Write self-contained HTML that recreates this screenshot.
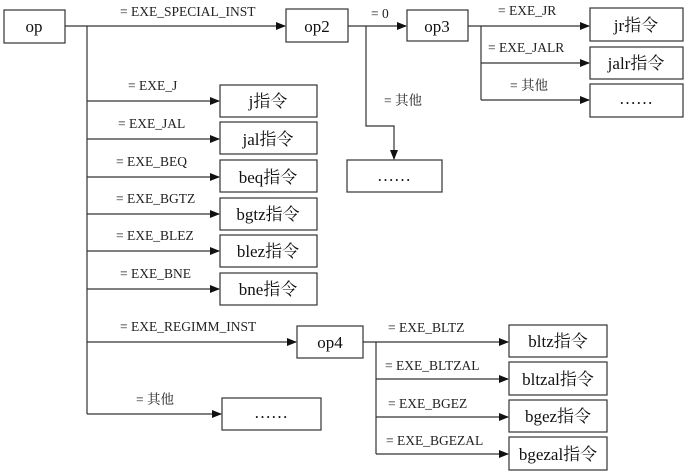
<!DOCTYPE html>
<html><head><meta charset="utf-8"><style>
html,body{margin:0;padding:0;background:#fff;}
svg{display:block;}
.l{font-family:"Liberation Serif","Noto Serif CJK SC",serif;font-size:13.5px;fill:#222;}
.b{font-family:"Liberation Serif","Noto Serif CJK SC",serif;font-size:17px;fill:#111;text-anchor:middle;}
rect{fill:#fff;stroke:#333;stroke-width:1.2;}
line,polyline{stroke:#333;stroke-width:1.2;fill:none;}
</style></head><body>
<svg width="690" height="473" viewBox="0 0 690 473" xmlns="http://www.w3.org/2000/svg">
<defs><marker id="a" markerWidth="10" markerHeight="8" refX="9" refY="4" orient="auto" markerUnits="userSpaceOnUse"><path d="M0,0 L10,4 L0,8 Z" fill="#111"/></marker></defs>

<rect x="4" y="10" width="61" height="33"/><text class="b" x="34" y="32">op</text>
<line x1="65" y1="26" x2="285" y2="26" marker-end="url(#a)"/>
<text class="l" x="120" y="16">= EXE_SPECIAL_INST</text>
<line x1="87" y1="26" x2="87" y2="414"/>

<rect x="286" y="9" width="62" height="33"/><text class="b" x="317" y="32">op2</text>
<line x1="348" y1="26" x2="406" y2="26" marker-end="url(#a)"/>
<text class="l" x="371" y="18">= 0</text>
<polyline points="366,26 366,126 394,126 394,159" marker-end="url(#a)"/>
<text class="l" x="384" y="105">= 其他</text>
<rect x="347" y="160" width="95" height="32"/><text class="b" x="394" y="181">……</text>

<rect x="407" y="10" width="61" height="31"/><text class="b" x="437" y="32">op3</text>
<line x1="468" y1="26" x2="589" y2="26" marker-end="url(#a)"/>
<text class="l" x="498" y="15">= EXE_JR</text>
<line x1="481" y1="26" x2="481" y2="100"/>
<line x1="481" y1="63" x2="589" y2="63" marker-end="url(#a)"/>
<text class="l" x="488" y="52">= EXE_JALR</text>
<line x1="481" y1="100" x2="589" y2="100" marker-end="url(#a)"/>
<text class="l" x="510" y="90">= 其他</text>
<rect x="590" y="8" width="93" height="33"/><text class="b" x="636" y="31">jr指令</text>
<rect x="590" y="47" width="93" height="32"/><text class="b" x="636" y="69">jalr指令</text>
<rect x="590" y="84" width="93" height="33"/><text class="b" x="636" y="104">……</text>

<line x1="87" y1="101" x2="219" y2="101" marker-end="url(#a)"/><text class="l" x="128" y="90">= EXE_J</text>
<rect x="220" y="85" width="97" height="32"/><text class="b" x="268" y="107">j指令</text>
<line x1="87" y1="139" x2="219" y2="139" marker-end="url(#a)"/><text class="l" x="118" y="128">= EXE_JAL</text>
<rect x="220" y="122" width="97" height="32"/><text class="b" x="268" y="145">jal指令</text>
<line x1="87" y1="177" x2="219" y2="177" marker-end="url(#a)"/><text class="l" x="116" y="166">= EXE_BEQ</text>
<rect x="220" y="160" width="97" height="32"/><text class="b" x="268" y="183">beq指令</text>
<line x1="87" y1="214" x2="219" y2="214" marker-end="url(#a)"/><text class="l" x="116" y="203">= EXE_BGTZ</text>
<rect x="220" y="198" width="97" height="32"/><text class="b" x="268" y="220">bgtz指令</text>
<line x1="87" y1="251" x2="219" y2="251" marker-end="url(#a)"/><text class="l" x="116" y="240">= EXE_BLEZ</text>
<rect x="220" y="235" width="97" height="32"/><text class="b" x="268" y="257">blez指令</text>
<line x1="87" y1="289" x2="219" y2="289" marker-end="url(#a)"/><text class="l" x="120" y="278">= EXE_BNE</text>
<rect x="220" y="273" width="97" height="32"/><text class="b" x="268" y="295">bne指令</text>

<line x1="87" y1="342" x2="296" y2="342" marker-end="url(#a)"/><text class="l" x="120" y="331">= EXE_REGIMM_INST</text>
<rect x="297" y="326" width="66" height="32"/><text class="b" x="330" y="348">op4</text>
<line x1="87" y1="414" x2="221" y2="414" marker-end="url(#a)"/><text class="l" x="136" y="404">= 其他</text>
<rect x="222" y="398" width="99" height="32"/><text class="b" x="271" y="418">……</text>

<line x1="363" y1="342" x2="508" y2="342" marker-end="url(#a)"/>
<line x1="376" y1="342" x2="376" y2="454"/>
<text class="l" x="388" y="332">= EXE_BLTZ</text>
<line x1="376" y1="379" x2="508" y2="379" marker-end="url(#a)"/><text class="l" x="385" y="370">= EXE_BLTZAL</text>
<line x1="376" y1="417" x2="508" y2="417" marker-end="url(#a)"/><text class="l" x="388" y="408">= EXE_BGEZ</text>
<line x1="376" y1="454" x2="508" y2="454" marker-end="url(#a)"/><text class="l" x="386" y="445">= EXE_BGEZAL</text>
<rect x="509" y="325" width="98" height="32"/><text class="b" x="558" y="347">bltz指令</text>
<rect x="509" y="362" width="98" height="33"/><text class="b" x="558" y="385">bltzal指令</text>
<rect x="509" y="400" width="98" height="32"/><text class="b" x="558" y="422">bgez指令</text>
<rect x="509" y="437" width="98" height="33"/><text class="b" x="558" y="460">bgezal指令</text>
</svg>
</body></html>
